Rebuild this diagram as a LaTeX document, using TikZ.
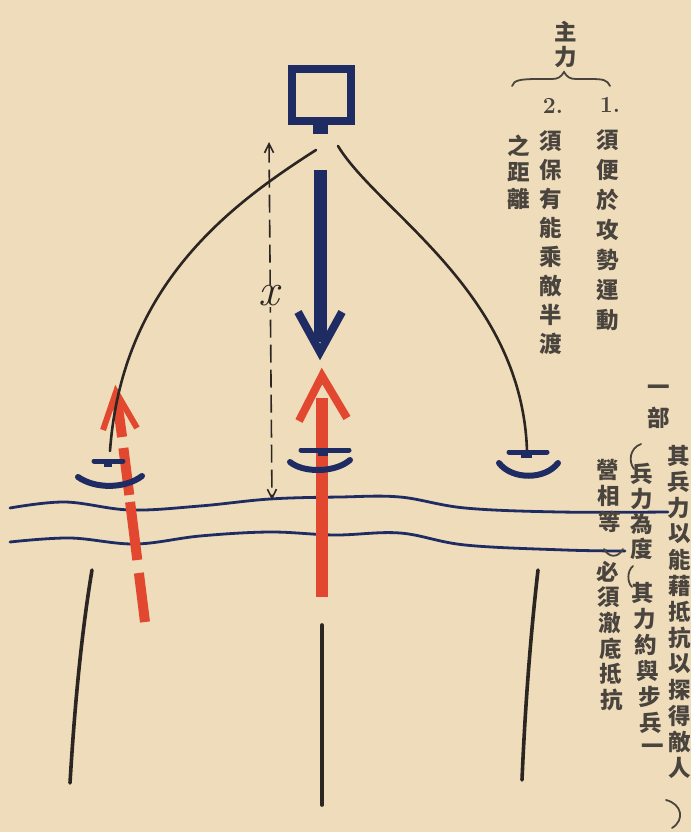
\documentclass[tikz,border=0pt]{standalone}
\usepackage{fontspec}
\newfontfamily\cjk{Noto Sans CJK TC}
\usetikzlibrary{arrows.meta}
\definecolor{paper}{HTML}{EFDCBB}
\definecolor{navy}{HTML}{1F2C63}
\definecolor{redink}{HTML}{E2482F}
\definecolor{blackink}{HTML}{2B2622}
\definecolor{textink}{HTML}{4A443E}
\newcommand\vtext[6]{\foreach \ch [count=\i from 0] in {#6} {\node[cjkch] (#1-\i) at ({#2+\i*#4},{#3+\i*#5}) {\ch};}}
\tikzset{
  cjkch/.style={font=\cjk\bfseries\fontsize{22.5}{22.5}\selectfont, text=textink, inner sep=0},
  numlbl/.style={font=\fontsize{23}{23}\selectfont\bfseries, text=textink, inner sep=0},
  river/.style={draw=navy, line width=2.8, line cap=round},
  curveline/.style={draw=blackink, line width=2.6, line cap=round},
  bankline/.style={draw=blackink, line width=3.6, line cap=round},
  unitbar/.style={draw=navy, line width=5, line cap=round},
  unitarc/.style={draw=navy, line width=6, line cap=round},
  redshaft/.style={draw=redink, line width=10},
  parenline/.style={draw=textink, line width=1.8, line cap=round},
}
\begin{document}
\begin{tikzpicture}[x=1pt,y=-1pt]
\fill[paper] (0,0) rectangle (691,832);
\useasboundingbox (0,0) rectangle (691,832);

% HQ square
\node[draw=navy, line width=8, minimum width=59, minimum height=52, inner sep=0] (hq) at (321.5,95) {};
\node[fill=navy, minimum width=15, minimum height=10, inner sep=0] (tab) at (320.5,129) {};

% named points
\coordinate (hqL) at (316,150);
\coordinate (hqR) at (338,146);
\coordinate (uL) at (110,451);
\coordinate (uR) at (527,451);

% blue arrow
\coordinate (ba0) at (320,170);
\coordinate (ba1) at (320,342);
\coordinate (batip) at (320,352);
\draw[navy, line width=13] (ba0) -- (ba1);
\draw[navy, line width=8, line join=miter] (298,312) -- (batip) -- (342,312);

% dimension line
\coordinate (d0) at (269,142);
\coordinate (d1) at (272,500);
\draw[blackink, line width=1.6, dash pattern=on 18pt off 7pt,
  {Straight Barb[length=9pt,width=9pt]}-{Straight Barb[length=9pt,width=9pt]}] (d0) -- (d1);
\node[fill=paper, inner sep=1, font=\fontsize{46}{46}\selectfont\itshape, text=blackink] (xl) at (268.5,296) {x};

% river
\draw[river] plot[smooth, tension=0.6] coordinates {(10,508) (65,502) (130,510) (200,506) (270,499) (340,497) (400,497) (465,508) (560,512) (668,512)};
\draw[river] plot[smooth, tension=0.6] coordinates {(10,542) (70,538) (135,544) (200,536) (270,532) (335,535) (400,533) (465,545) (565,550) (625,551)};

% red arrows
\draw[redshaft, line width=12] (322,398) -- (322,597);
\draw[redink, line width=8, line join=miter] (299,421) -- (322,376) -- (347,418);
\draw[redshaft] (117,400) -- (122.1,437);
\draw[redshaft] (123.4,448) -- (129.3,495);
\draw[redshaft] (130.1,502) -- (137.3,560);
\draw[redshaft] (138.9,573) -- (145,622);
\draw[redink, line width=6, line join=miter] (103,430) -- (116,392) -- (137,428);

% black curves (over the red arrow)
\draw[curveline] (hqL) .. controls (230,205) and (122,285) .. (uL);
\draw[curveline] (hqR) .. controls (378,212) and (522,292) .. (uR);

% unit symbols
\draw[unitbar] (94,461) -- (123,461);
\fill[navy] (104,460) rectangle (112,467);
\draw[unitarc] (78,477) .. controls (95,489) and (125,489) .. (142,476);
\draw[unitbar] (301,450) -- (349,450);
\fill[navy] (318,449) rectangle (328,456);
\draw[unitarc] (290,462) .. controls (303,473) and (335,473) .. (350,460);
\draw[unitbar] (509,452) -- (547,452);
\fill[navy] (521,451) rectangle (532,458);
\draw[unitarc] (499,463) .. controls (512,480) and (545,480) .. (558,463);

% banks
\draw[bankline] (92,570) .. controls (82,630) and (75,700) .. (70,783);
\draw[bankline] (322,625) -- (322,805);
\draw[bankline] (538,570) .. controls (530,640) and (525,710) .. (522,780);

% top-right text
\vtext{zl}{566}{32}{0}{25}{主,力}
\draw[parenline] (512,86) .. controls (514,80) and (520,79) .. (540,79) -- (552,79) .. controls (558,79) and (561,77) .. (564,72) .. controls (567,77) and (570,79) .. (576,79) -- (590,79) .. controls (604,79) and (607,80) .. (610,86);
\node[numlbl] (n1) at (610,105) {1.};
\node[numlbl] (n2) at (553,106) {2.};
\vtext{ca}{608}{140}{0}{30}{須,便,於,攻,勢,運,動}
\vtext{cb}{551}{141}{0}{29}{須,保,有,能,乘,敵,半,渡}
\vtext{cc}{519}{146}{0}{26.5}{之,距,離}

% right text
\vtext{ra}{659}{390}{0}{28}{一,部}
\vtext{rb}{679}{456}{0.1}{26}{其,兵,力,以,能,藉,抵,抗,以,探,得,敵,人}
\vtext{rc}{642}{474}{0}{25}{兵,力,為,度}
\vtext{rd}{643}{593}{1.6}{26}{其,力,約,與,步,兵,一}
\vtext{re}{608}{470}{1}{26}{營,相,等}
\vtext{rf}{608}{572}{0.8}{25.5}{必,須,澈,底,抵,抗}
\draw[parenline] (641,444) .. controls (630,448) and (628,461) .. (634,469);
\draw[parenline] (604,549) .. controls (609,558) and (618,558) .. (623,549);
\draw[parenline] (633,566) .. controls (627,571) and (627,582) .. (632,587);
\draw[parenline] (666,800) .. controls (682,804) and (685,820) .. (672,828);
\end{tikzpicture}
\end{document}
